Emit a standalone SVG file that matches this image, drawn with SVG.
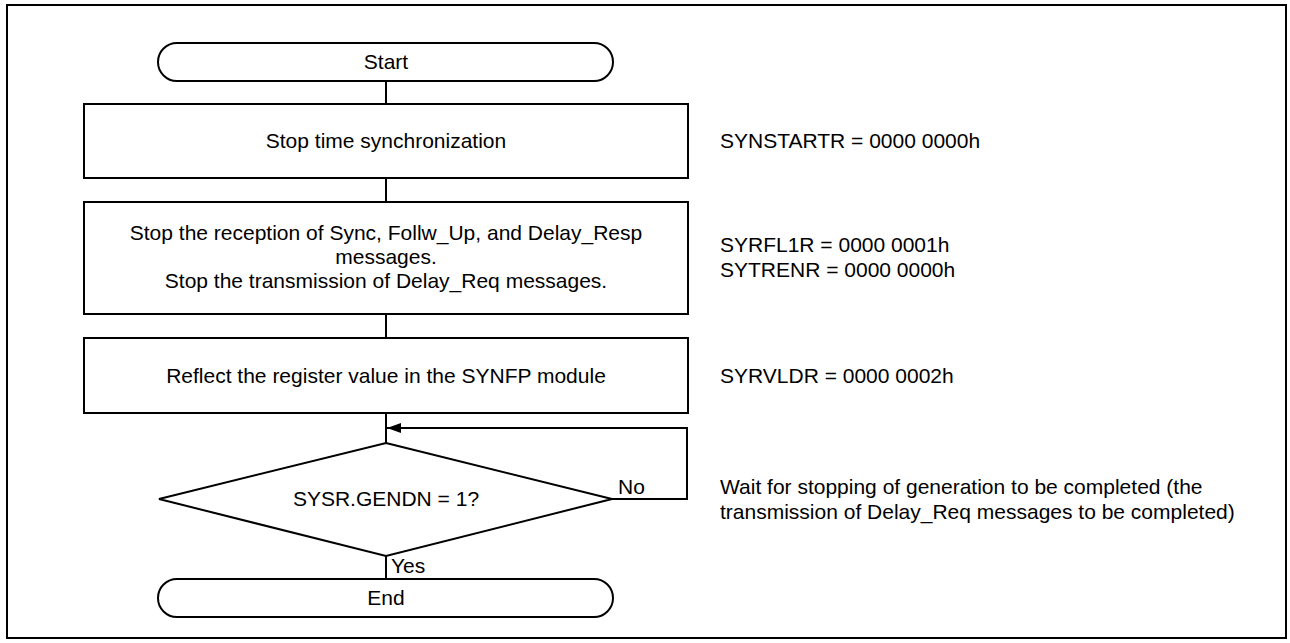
<svg xmlns="http://www.w3.org/2000/svg" width="1290" height="643" viewBox="0 0 1290 643">
<style>
.shape{fill:#fff;stroke:#000;stroke-width:2}
.line{fill:none;stroke:#000;stroke-width:2}
text{font-family:"Liberation Sans",Arial,sans-serif;font-size:21px;fill:#000}
.c{text-anchor:middle}
</style>
<defs>
<marker id="arr" markerWidth="14" markerHeight="10" refX="14" refY="5" orient="auto" markerUnits="userSpaceOnUse">
<path d="M0,0 L14,5 L0,10 Z" fill="#000"/>
</marker>
</defs>
<rect x="7" y="5" width="1279" height="633" fill="#fff" stroke="#000" stroke-width="2"/>
<g id="connectors">
<line class="line" x1="386" y1="81" x2="386" y2="104"/>
<line class="line" x1="386" y1="178" x2="386" y2="202"/>
<line class="line" x1="386" y1="314" x2="386" y2="338"/>
<line class="line" x1="386" y1="413" x2="386" y2="443"/>
<line class="line" x1="386" y1="556" x2="386" y2="579"/>
<polyline class="line" points="612,499 687,499 687,428 387,428" marker-end="url(#arr)"/>
<text x="618" y="494">No</text>
<text x="391" y="573">Yes</text>
</g>
<g id="start">
<rect class="shape" x="158" y="43" width="455" height="38" rx="19" ry="19"/>
<text class="c" x="386" y="69">Start</text>
</g>
<g id="step1">
<rect class="shape" x="84" y="104" width="604" height="74"/>
<text class="c" x="386" y="148">Stop time synchronization</text>
</g>
<g id="step2">
<rect class="shape" x="84" y="202" width="604" height="112"/>
<text class="c" x="386" y="240">Stop the reception of Sync, Follw_Up, and Delay_Resp</text>
<text class="c" x="386" y="264">messages.</text>
<text class="c" x="386" y="288">Stop the transmission of Delay_Req messages.</text>
</g>
<g id="step3">
<rect class="shape" x="84" y="338" width="604" height="75"/>
<text class="c" x="386" y="383">Reflect the register value in the SYNFP module</text>
</g>
<g id="decision">
<polygon class="shape" points="386,443 612,499 386,556 159,499"/>
<text class="c" x="386" y="506">SYSR.GENDN = 1?</text>
</g>
<g id="end">
<rect class="shape" x="158" y="579" width="455" height="38" rx="19" ry="19"/>
<text class="c" x="386" y="605">End</text>
</g>
<g id="notes">
<text x="720" y="148">SYNSTARTR = 0000 0000h</text>
<text x="720" y="252">SYRFL1R = 0000 0001h</text>
<text x="720" y="277">SYTRENR = 0000 0000h</text>
<text x="720" y="383">SYRVLDR = 0000 0002h</text>
<text x="720" y="494">Wait for stopping of generation to be completed (the</text>
<text x="720" y="519">transmission of Delay_Req messages to be completed)</text>
</g>
</svg>
